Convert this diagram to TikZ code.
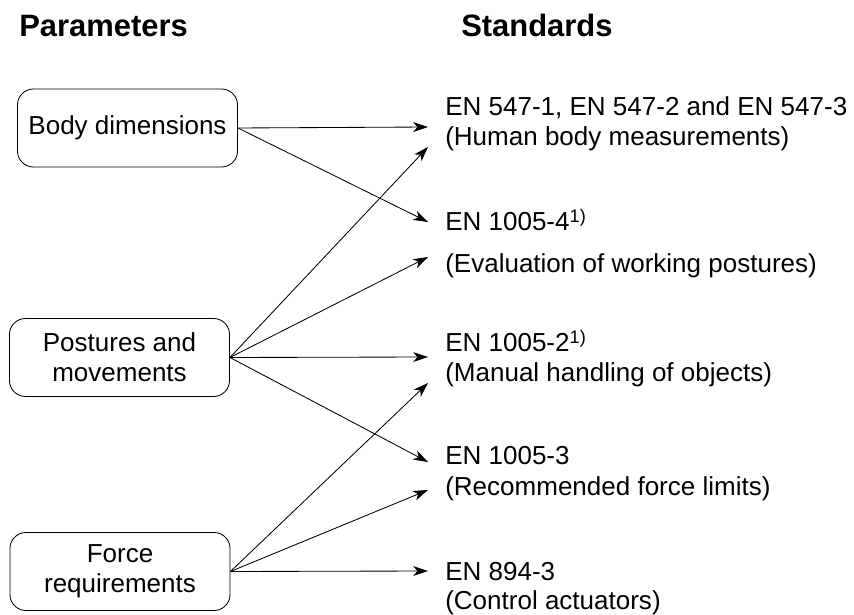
\documentclass[tikz,border=0pt]{standalone}
\usepackage{fontspec}
\setmainfont{Liberation Sans}
\usetikzlibrary{arrows.meta,positioning}

\begin{document}
\begin{tikzpicture}[
    x=0.025cm, y=-0.025cm,
    param/.style={draw, rounded corners=0.4cm, minimum width=5.5cm, minimum height=1.95cm, align=center, font=\fontsize{18.5}{21.3}\selectfont, line width=0.6pt},
    std/.style={anchor=base west, inner sep=0pt, font=\fontsize{18.5}{21.3}\selectfont},
    head/.style={anchor=base west, inner sep=0pt, font=\fontsize{22}{25}\selectfont\bfseries},
    link/.style={-{Stealth[length=10.5pt, width=7pt, inset=3pt]}, line width=0.6pt},
  ]
  \useasboundingbox (0,0) rectangle (854,615);

  % Column headings
  \node[head] (hpar) at (19,37) {Parameters};
  \node[head] (hstd) at (461,37) {Standards};

  % Parameter boxes
  \node[param] (body) at (127.5,128) {Body dimensions};
  \node[param] (post) at (119.5,357.5) {Postures and\\movements};
  \node[param] (force) at (120,571.5) {Force\\requirements};

  % Standards, two lines each
  \node[std] (s1a) at (445,116) {EN 547-1, EN 547-2 and EN 547-3};
  \node[std] (s1b) at (445,146) {(Human body measurements)};
  \node[std] (s2a) at (445,231) {EN 1005-4\textsuperscript{1)}};
  \node[std] (s2b) at (445,273) {(Evaluation of working postures)};
  \node[std] (s3a) at (445,352) {EN 1005-2\textsuperscript{1)}};
  \node[std] (s3b) at (445,382) {(Manual handling of objects)};
  \node[std] (s4a) at (445,465) {EN 1005-3};
  \node[std] (s4b) at (445,495) {(Recommended force limits)};
  \node[std] (s5a) at (445,580) {EN 894-3};
  \node[std] (s5b) at (445,609) {(Control actuators)};

  % Arrow ends in front of the standards
  \coordinate (t1) at (428,127);
  \coordinate (t2) at (428,147);
  \coordinate (t3) at (428,222);
  \coordinate (t4) at (428,257);
  \coordinate (t5) at (428,357);
  \coordinate (t6) at (428,383);
  \coordinate (t7) at (428,462);
  \coordinate (t8) at (428,490);
  \coordinate (t9) at (428,571);

  % Connections
  \draw[link] (body.east) -- (t1);
  \draw[link] (body.east) -- (t3);
  \draw[link] (post.east) -- (t2);
  \draw[link] (post.east) -- (t4);
  \draw[link] (post.east) -- (t5);
  \draw[link] (post.east) -- (t7);
  \draw[link] (force.east) -- (t6);
  \draw[link] (force.east) -- (t8);
  \draw[link] (force.east) -- (t9);
\end{tikzpicture}
\end{document}
